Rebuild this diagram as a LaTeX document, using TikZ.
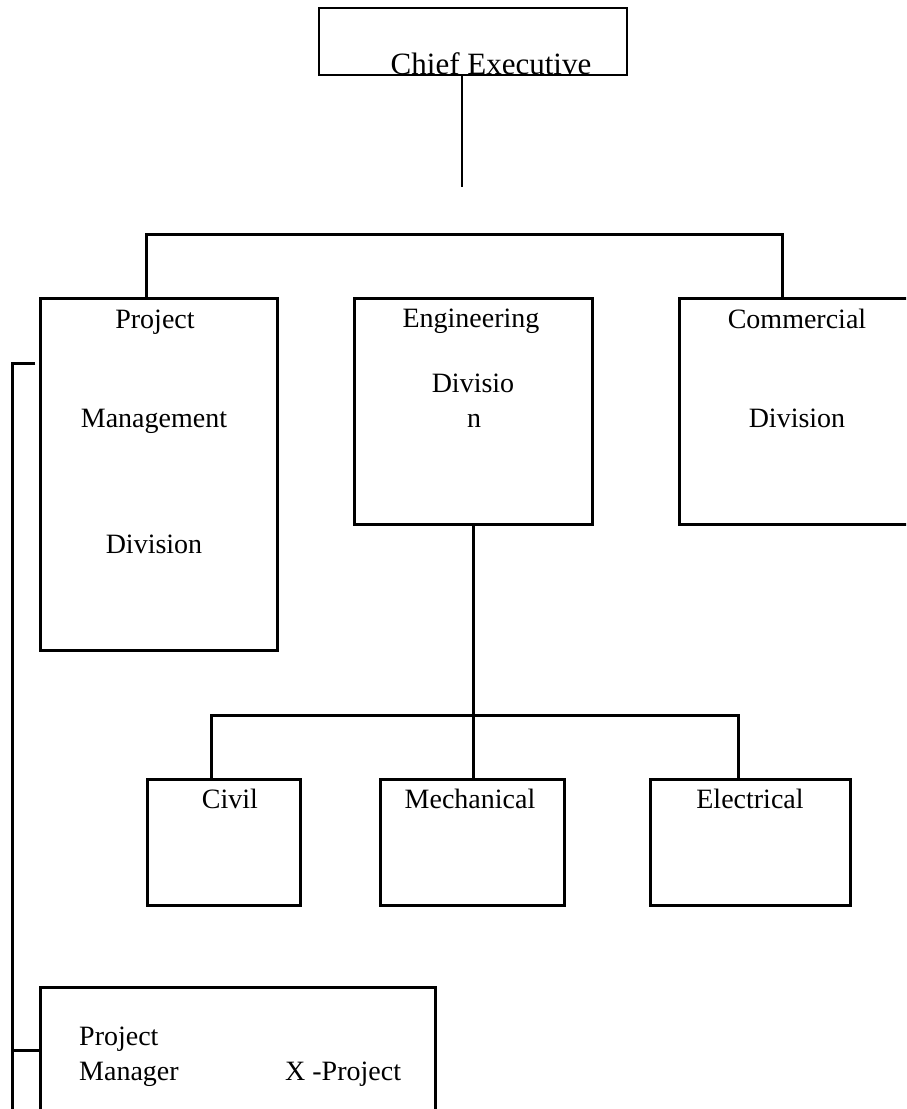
\documentclass[tikz,border=0pt]{standalone}
\usepackage{fontspec}
\setmainfont{Liberation Serif}
\begin{document}
\begin{tikzpicture}[x=1pt,y=-1pt,
  box/.style={draw, line width=3pt, rectangle, inner sep=0pt},
  topbox/.style={draw, line width=1.2pt, rectangle, inner sep=0pt},
  lbl/.style={anchor=base, inner sep=0pt, font=\fontsize{28}{34}\selectfont},
  toplbl/.style={anchor=base, inner sep=0pt, font=\fontsize{31}{37}\selectfont},
  link/.style={line width=3pt},
  thinlink/.style={line width=1.5pt}]
\useasboundingbox (0,0) rectangle (906,1109);
\fill[white] (0,0) rectangle (906,1109);
\begin{scope}
\clip (0,0) rectangle (906,1109);

% boxes
\node[topbox, minimum width=308pt, minimum height=67pt] (ce) at (473,41.5) {};
\node[box, minimum width=237pt, minimum height=352pt] (pmd) at (158.5,474) {};
\node[box, minimum width=238pt, minimum height=226pt] (eng) at (473,411) {};
\node[box, minimum width=236pt, minimum height=226pt] (com) at (797,411) {};
\node[box, minimum width=153pt, minimum height=126pt] (civ) at (223.5,842) {};
\node[box, minimum width=184pt, minimum height=126pt] (mech) at (472,842) {};
\node[box, minimum width=200pt, minimum height=126pt] (ele) at (750,842) {};
\node[box, minimum width=395pt, minimum height=143pt] (pmx) at (237.5,1058.5) {};

% labels
\node[toplbl] (ceT) at (491,74) {Chief Executive};
\node[lbl] (pmd1) at (155,328) {Project};
\node[lbl] (pmd2) at (154,427) {Management};
\node[lbl] (pmd3) at (154,553) {Division};
\node[lbl] (eng1) at (471,327) {Engineering};
\node[lbl] (eng2) at (473,392) {Divisio};
\node[lbl] (eng3) at (474,427) {n};
\node[lbl] (com1) at (797,328) {Commercial};
\node[lbl] (com2) at (797,427) {Division};
\node[lbl] (civT) at (230,808) {Civil};
\node[lbl] (mechT) at (470,808) {Mechanical};
\node[lbl] (eleT) at (750,808) {Electrical};
\node[lbl, anchor=base west] (pmx1) at (79,1045) {Project};
\node[lbl, anchor=base west] (pmx2) at (79,1080) {Manager};
\node[lbl, anchor=base west] (pmx3) at (285,1080) {X -Project};

% connectors
\coordinate (ceEnd) at (462,187);
\draw[thinlink] (ceEnd |- ce.south) -- (ceEnd);

\coordinate (barL) at (146,234);
\coordinate (barR) at (782,234);
\draw[link] (pmd.north -| barL) -- (barL) -- (barR) -- (com.north -| barR);

\coordinate (rowL) at (211,715);
\coordinate (rowR) at (738,715);
\draw[link] (civ.north -| rowL) -- (rowL) -- (rowR) -- (ele.north -| rowR);
\draw[link] (eng.south) -- (eng.south |- mech.north);

\coordinate (sideTop) at (12,363);
\coordinate (sideTick) at (35,363);
\coordinate (sideBot) at (12,1120);
\coordinate (sideJoin) at (12,1050);
\draw[link] (sideTick) -- (sideTop) -- (sideBot);
\draw[link] (sideJoin) -- (pmx.west |- sideJoin);
\end{scope}
\end{tikzpicture}
\end{document}
